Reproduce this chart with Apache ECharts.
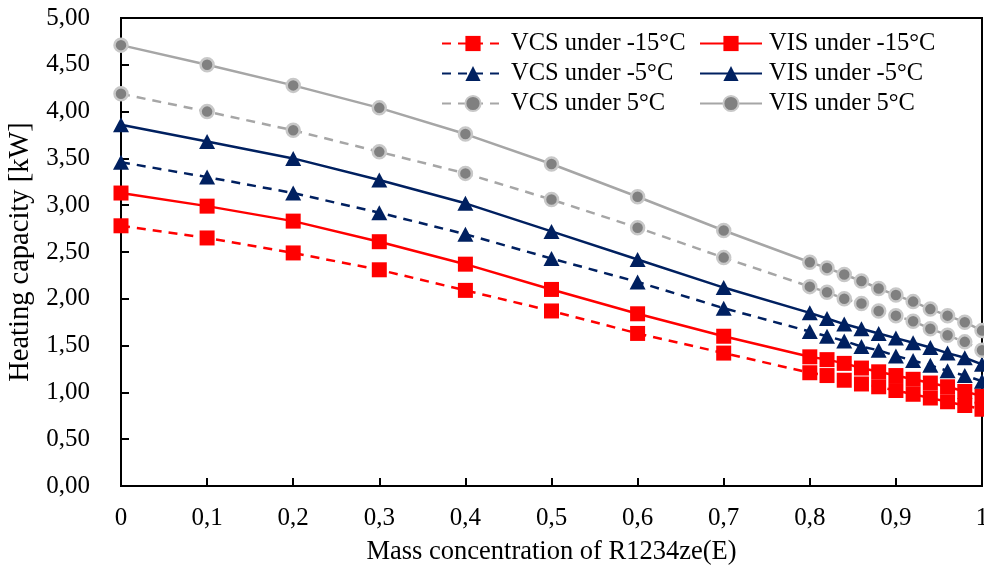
<!DOCTYPE html>
<html>
<head>
<meta charset="utf-8">
<script src="https://cdn.jsdelivr.net/npm/echarts@6/dist/echarts.min.js"></script>
<style>html,body{margin:0;padding:0;background:#fff;}#c{width:984px;height:572px;}</style>
</head>
<body>
<div id="c"></div>
<script>
const xValues = [0,0.1,0.2,0.3,0.4,0.5,0.6,0.7,0.8,0.82,0.84,0.86,0.88,0.9,0.92,0.94,0.96,0.98,1.0];
const xTickLabels = ['0','0,1','0,2','0,3','0,4','0,5','0,6','0,7','0,8','0,9','1'];
const vcsM15 = [2.78,2.65,2.49,2.31,2.09,1.87,1.63,1.42,1.21,1.18,1.13,1.09,1.06,1.02,0.98,0.94,0.90,0.86,0.82];
const visM15 = [3.13,2.99,2.83,2.61,2.37,2.10,1.84,1.60,1.38,1.35,1.31,1.26,1.22,1.18,1.14,1.10,1.06,1.01,0.96];
const vcsM5  = [3.46,3.30,3.13,2.92,2.69,2.43,2.18,1.90,1.65,1.60,1.55,1.49,1.45,1.39,1.34,1.29,1.23,1.18,1.12];
const visM5  = [3.86,3.68,3.50,3.27,3.02,2.72,2.42,2.12,1.85,1.79,1.73,1.68,1.63,1.58,1.53,1.48,1.42,1.37,1.30];
const vcsP5  = [4.19,4.00,3.80,3.57,3.34,3.06,2.76,2.44,2.13,2.07,2.00,1.95,1.87,1.82,1.76,1.68,1.61,1.54,1.45];
const visP5  = [4.71,4.50,4.28,4.04,3.76,3.44,3.09,2.73,2.39,2.33,2.26,2.19,2.11,2.04,1.97,1.89,1.82,1.75,1.66];
const seriesNames = ['VCS under -15°C','VIS under -15°C','VCS under -5°C','VIS under -5°C','VCS under 5°C','VIS under 5°C'];

const FONT = 'Liberation Serif';
const RED = '#ff0000', NAVY = '#002060', GRAY = '#a6a6a6';
const pair = arr => arr.map((v,i)=>[xValues[i], v]);

function mk(name, data, color, dashed, symbol, size, itemStyle) {
  return {
    name, type:'line', data: pair(data), symbol, symbolSize:size, showSymbol:true,
    lineStyle:{color, width:2.5, type: dashed ? [9,7] : 'solid'},
    itemStyle: Object.assign({color, opacity:1}, itemStyle||{}),
    emphasis:{disabled:true}, animation:false
  };
}
const circStyle = {color:'#808080', borderColor:'#c8c8c8', borderWidth:2.5};
const series = [
  mk(seriesNames[0], vcsM15, RED, true, 'rect', 15),
  mk(seriesNames[1], visM15, RED, false, 'rect', 15),
  mk(seriesNames[2], vcsM5, NAVY, true, 'triangle', [16,15]),
  mk(seriesNames[3], visM5, NAVY, false, 'triangle', [16,15]),
  mk(seriesNames[4], vcsP5, GRAY, true, 'circle', 13, circStyle),
  mk(seriesNames[5], visP5, GRAY, false, 'circle', 13, circStyle)
];

const legendCommon = {
  orient:'vertical', itemWidth:62, itemHeight:19, itemGap:5,
  textStyle:{fontFamily:FONT, fontSize:24.5, color:'#000', padding:[0,0,0,2]},
  selectedMode:false, padding:0
};
const chart = echarts.init(document.getElementById('c'), null, {renderer:'canvas'});
chart.setOption({
  backgroundColor:'#fff',
  animation:false,
  grid:{left:121, right:2, top:18, bottom:86, show:true, borderColor:'#000', borderWidth:2,
        containLabel:false, outerBoundsMode:'none'},
  legend:[
    Object.assign({}, legendCommon, {left:441, top:31, data:[seriesNames[0],seriesNames[2],seriesNames[4]]}),
    Object.assign({}, legendCommon, {left:699, top:31, data:[seriesNames[1],seriesNames[3],seriesNames[5]]})
  ],
  xAxis:{
    type:'value', min:0, max:1, interval:0.1,
    name:'Mass concentration of R1234ze(E)', nameLocation:'middle', nameGap:53,
    nameTextStyle:{fontFamily:FONT, fontSize:26.5, color:'#000'},
    axisLine:{show:true, onZero:false, lineStyle:{color:'#000', width:2}},
    axisTick:{show:true, inside:true, length:8, lineStyle:{color:'#000', width:2}},
    splitLine:{show:false},
    axisLabel:{fontFamily:FONT, fontSize:25, color:'#000', margin:20, showMaxLabel:true, showMinLabel:true,
      formatter: v => { const i = Math.round(v*10); return xTickLabels[i] !== undefined ? xTickLabels[i] : ''; }}
  },
  yAxis:{
    type:'value', min:0, max:5, interval:0.5,
    name:'Heating capacity [kW]', nameLocation:'middle', nameGap:84, nameRotate:90,
    nameTextStyle:{fontFamily:FONT, fontSize:28.5, color:'#000'},
    axisLine:{show:true, lineStyle:{color:'#000', width:2}},
    axisTick:{show:true, inside:true, length:8, lineStyle:{color:'#000', width:2}},
    splitLine:{show:false},
    axisLabel:{fontFamily:FONT, fontSize:25, color:'#000', margin:31,
      formatter: v => v.toFixed(2).replace('.', ',')}
  },
  series
});
</script>
</body>
</html>
